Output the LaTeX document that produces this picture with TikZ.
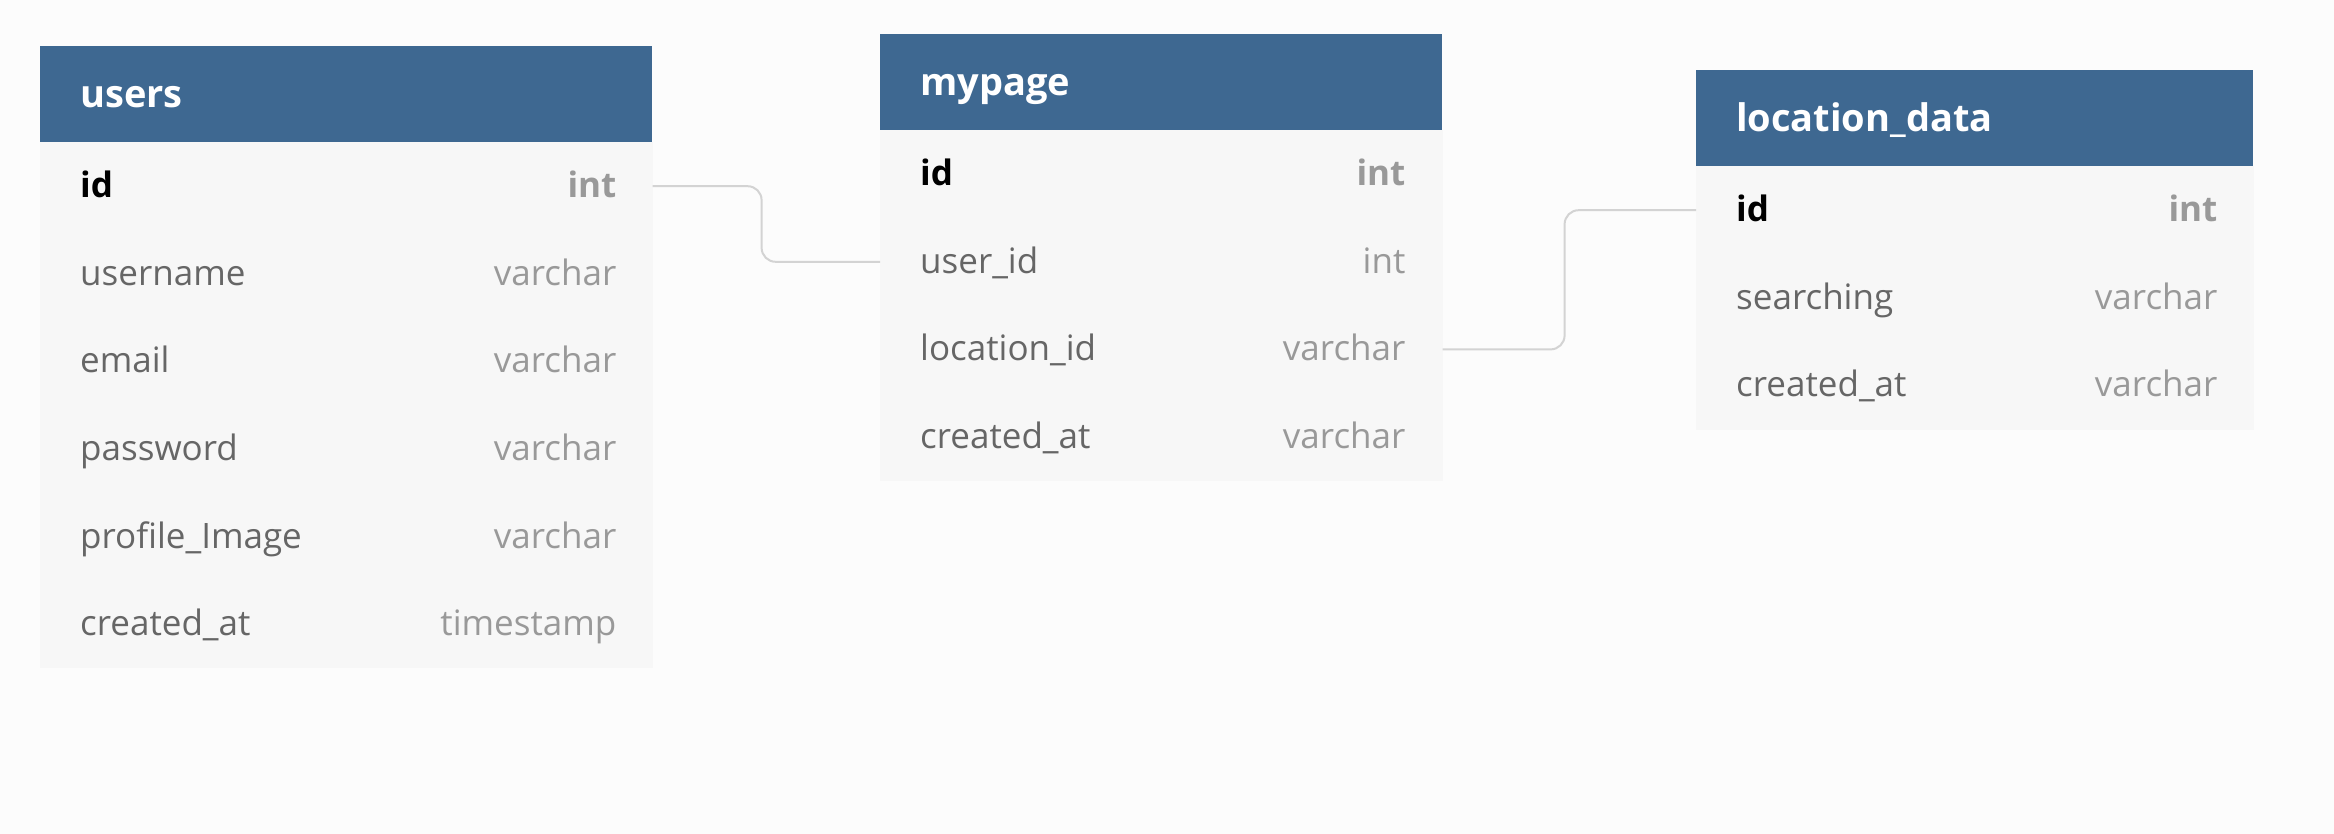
\documentclass[tikz,border=0pt]{standalone}
\usepackage{fontspec}
\setmainfont{Open Sans}
\usepackage{tikz}
\usetikzlibrary{positioning}

\definecolor{hdblue}{HTML}{3E6891}
\definecolor{bodybg}{HTML}{F7F7F7}
\definecolor{pagebg}{HTML}{FCFCFC}
\definecolor{namegray}{HTML}{666666}
\definecolor{typegray}{HTML}{999999}
\definecolor{linegray}{HTML}{D3D3D3}

\begin{document}
\begin{tikzpicture}[x=1pt,y=-1pt]
          \tikzstyle{tblhead} = [rectangle, fill=hdblue, anchor=north west, inner xsep=40pt, inner ysep=0pt,
          minimum height=96pt, align=left, text=white, font=\fontsize{38}{44}\selectfont\bfseries,
          text height=30pt, text depth=3pt]
          \tikzstyle{tblrow} = [rectangle, fill=bodybg, draw=bodybg, line width=0.6pt, anchor=north west,
          inner sep=0pt, minimum height=87pt]
          \tikzstyle{fname} = [inner sep=0pt, text=namegray, font=\fontsize{35}{42}\selectfont,
          text height=28pt, text depth=5pt]
          \tikzstyle{ftype} = [fname, text=typegray]
          \tikzstyle{pkname} = [fname, text=black, font=\fontsize{35}{42}\selectfont\bfseries]
          \tikzstyle{pktype} = [ftype, font=\fontsize{35}{42}\selectfont\bfseries]
          \tikzstyle{conn} = [draw=linegray, line width=2pt, rounded corners=14pt]

          \fill[pagebg] (0,0) rectangle (2334,834);
          \useasboundingbox (0,0) rectangle (2334,834);

          % users
          \node[tblhead, text width=532pt] (users) at (40,46) {users};
          \node[tblrow, minimum width=612pt] (u-id) at (users.south west) {};
          \node[tblrow, minimum width=612pt] (u-name) at (u-id.south west) {};
          \node[tblrow, minimum width=612pt] (u-mail) at (u-name.south west) {};
          \node[tblrow, minimum width=612pt] (u-pass) at (u-mail.south west) {};
          \node[tblrow, minimum width=612pt] (u-img) at (u-pass.south west) {};
          \node[tblrow, minimum width=612pt] (u-date) at (u-img.south west) {};
          \node[pkname, right=40pt of u-id.west] (u-id-n) {id};
          \node[pktype, left=36pt of u-id.east] (u-id-t) {int};
          \node[fname, right=40pt of u-name.west] (u-name-n) {username};
          \node[ftype, left=36pt of u-name.east] (u-name-t) {varchar};
          \node[fname, right=40pt of u-mail.west] (u-mail-n) {email};
          \node[ftype, left=36pt of u-mail.east] (u-mail-t) {varchar};
          \node[fname, right=40pt of u-pass.west] (u-pass-n) {password};
          \node[ftype, left=36pt of u-pass.east] (u-pass-t) {varchar};
          \node[fname, right=40pt of u-img.west] (u-img-n) {profile\_Image};
          \node[ftype, left=36pt of u-img.east] (u-img-t) {varchar};
          \node[fname, right=40pt of u-date.west] (u-date-n) {created\_at};
          \node[ftype, left=36pt of u-date.east] (u-date-t) {timestamp};

          % mypage
          \node[tblhead, text width=482pt] (mypage) at (880,34) {mypage};
          \node[tblrow, minimum width=562pt] (m-id) at (mypage.south west) {};
          \node[tblrow, minimum width=562pt] (m-user) at (m-id.south west) {};
          \node[tblrow, minimum width=562pt] (m-loc) at (m-user.south west) {};
          \node[tblrow, minimum width=562pt] (m-date) at (m-loc.south west) {};
          \node[pkname, right=40pt of m-id.west] (m-id-n) {id};
          \node[pktype, left=37pt of m-id.east] (m-id-t) {int};
          \node[fname, right=40pt of m-user.west] (m-user-n) {user\_id};
          \node[ftype, left=37pt of m-user.east] (m-user-t) {int};
          \node[fname, right=40pt of m-loc.west] (m-loc-n) {location\_id};
          \node[ftype, left=37pt of m-loc.east] (m-loc-t) {varchar};
          \node[fname, right=40pt of m-date.west] (m-date-n) {created\_at};
          \node[ftype, left=37pt of m-date.east] (m-date-t) {varchar};

          % location_data
          \node[tblhead, text width=477pt] (locdata) at (1696,70) {location\_data};
          \node[tblrow, minimum width=557pt] (l-id) at (locdata.south west) {};
          \node[tblrow, minimum width=557pt] (l-search) at (l-id.south west) {};
          \node[tblrow, minimum width=557pt] (l-date) at (l-search.south west) {};
          \node[pkname, right=40pt of l-id.west] (l-id-n) {id};
          \node[pktype, left=36pt of l-id.east] (l-id-t) {int};
          \node[fname, right=40pt of l-search.west] (l-search-n) {searching};
          \node[ftype, left=36pt of l-search.east] (l-search-t) {varchar};
          \node[fname, right=40pt of l-date.west] (l-date-n) {created\_at};
          \node[ftype, left=36pt of l-date.east] (l-date-t) {varchar};

          \draw[conn] (u-id.east) -- ++(109,0) |- (m-user.west);
          \draw[conn] (m-loc.east) -- ++(122,0) |- (l-id.west);
        \end{tikzpicture}
\end{document}
